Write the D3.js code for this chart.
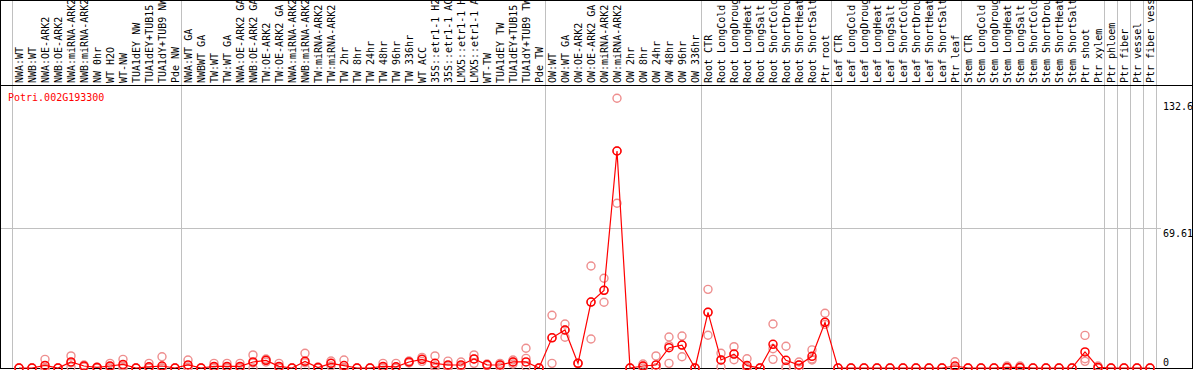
<!DOCTYPE html>
<html><head><meta charset="utf-8">
<script src="https://cdn.jsdelivr.net/npm/d3@7"></script>
<style>html,body{margin:0;padding:0;background:#fff;} svg{display:block}</style>
</head><body>
<svg id="c" width="1194" height="370"></svg>
<script>
const geneTitle = "Potri.002G193300";
const categories = [
"NWA:WT","NWB:WT","NWA:OE-ARK2","NWB:OE-ARK2","NWA:miRNA-ARK2","NWB:miRNA-ARK2","NW 0hr","WT H2O","WT-NW","TUA1dEY NW","TUA1dEY+TUB15 NW","TUA1dY+TUB9 NW","Pde NW",
"NWA:WT GA","NWBWT GA","TW:WT","TW:WT GA","NWA:OE-ARK2 GA","NWB:OE-ARK2 GA","TW:OE-ARK2","TW:OE-ARK2 GA","NWA:miRNA-ARK2 GA","NWB:miRNA-ARK2 GA","TW:miRNA-ARK2","TW:miRNA-ARK2 GA","TW 2hr","TW 8hr","TW 24hr","TW 48hr","TW 96hr","TW 336hr","WT ACC","35S::etr1-1 H2O","35S::etr1-1 ACC","LMX5::etr1-1 H2O","LMX5::etr1-1 ACC","WT-TW","TUA1dEY TW","TUA1dEY+TUB15 TW","TUA1dY+TUB9 TW","Pde TW",
"OW:WT","OW:WT GA","OW:OE-ARK2","OW:OE-ARK2 GA","OW:miRNA-ARK2","OW:miRNA-ARK2 GA","OW 2hr","OW 8hr","OW 24hr","OW 48hr","OW 96hr","OW 336hr",
"Root CTR","Root LongCold","Root LongDrought","Root LongHeat","Root LongSalt","Root ShortCold","Root ShortDrought","Root ShortHeat","Root ShortSalt","Ptr root",
"Leaf CTR","Leaf LongCold","Leaf LongDrought","Leaf LongHeat","Leaf LongSalt","Leaf ShortCold","Leaf ShortDrought","Leaf ShortHeat","Leaf ShortSalt","Ptr leaf",
"Stem CTR","Stem LongCold","Stem LongDrought","Stem LongHeat","Stem LongSalt","Stem ShortCold","Stem ShortDrought","Stem ShortHeat","Stem ShortSalt","Ptr shoot","Ptr xylem",
"Ptr phloem","Ptr fiber","Ptr vessel","Ptr fiber vessel"
];
const groupStarts = ["NWA:WT","NWA:WT GA","OW:WT","Root CTR","Leaf CTR","Stem CTR","Ptr phloem","Ptr fiber","Ptr vessel","Ptr fiber vessel"];
const meanValues = [
0,0,1.3,0,3,1,0.3,1,1.8,0,0.6,1,0,
1.5,0,0.8,0.8,0.8,3,3.8,0.8,0,3.3,0.2,2.3,1.2,0,0,0.8,0.6,3,4.3,2.3,1.5,1.5,4.5,1.6,1.5,3,3,0,
15,18.9,2.3,32.8,38.6,107.9,0,1,1.5,10.1,11.4,0,
27.7,4,6.9,1.2,0,11.8,3.8,1.5,5.8,22.7,
0,0,0,0,0,0,0,0,0,1,
0,0,0,0.3,0.3,0,0,0,0,8,0.3,
0,0,0,0
];
const rep1 = [
0,0,4.3,0,6,1.5,0.5,2.3,4.3,0,2.3,5.6,0,
4,0,2.3,2.3,2.3,6.5,4.5,2.3,0,7.3,0.5,3.5,4,0,0,2.3,2.3,3.5,5.3,6,3.4,3,6.5,2,2.3,4,9.8,0,
26.2,21.9,2.3,50.7,44.6,134.1,0,2,6,15.4,15.9,0,
39.1,7.3,10.6,4.6,0,21.9,10.8,3,9,27.2,
0,0,0,0,0,0,0,0,0,3.1,
0,0,0,1,1,0,0,0,0,16.2,1,
0,0,0,0
];
const rep2 = [
0,0,0,0,2.5,1,0.3,0.7,1,0,0,0,0,
0.5,0,0.2,0.2,0.2,2.5,3.8,0.2,0,2.6,0,2.3,0,0,0,0,0,3,4.3,1,1,1,4.5,1.6,1.5,3,4.8,0,
15.1,18.9,2.3,32.8,38.6,107.9,0,1,0,11.1,11.4,0,
27.7,4,6.9,0,0,9.6,0.6,1.5,4.5,22.7,
0,0,0,0,0,0,0,0,0,0,
0,0,0,0,0,0,0,0,0,4.6,0,
0,0,0,0
];
const rep3 = [
0,0,0,0,0.5,0.5,0,0,0,0,0,0,0,
0,0,0,0,0,0,3,0,0,0,0,1,0,0,0,0,0,2.5,3.3,0,0,0.5,2.3,1.2,0.5,2,0.7,0,
2.3,15.3,2.3,14.4,32.7,81.9,0,0,0,2.3,5.6,0,
16.3,0.5,4.1,0,0,4.3,0,0,4,21.7,
0,0,0,0,0,0,0,0,0,0,
0,0,0,0,0,0,0,0,0,3.3,0,
0,0,0,0
];
const yTickValues = [132.6, 69.61, 0];
const yTickLabels = ["132.6", "69.61", "0"];
const yGridValues = [69.61];

const W = 1194, H = 370;
const svg = d3.select("#c");
const font = "'DejaVu Sans Mono', monospace";

const x = d3.scaleBand().domain(categories).range([12.5, 12.5 + 13 * categories.length]).paddingInner(0).paddingOuter(0);
const cx = c => x(c) + x.bandwidth() / 2;
const y = d3.scaleLinear().domain([0, 139.22]).range([368, 88]);

// vertical group lines
const lastEnd = x(categories[categories.length - 1]) + x.bandwidth();
const gridXs = groupStarts.map(c => Math.round(x(c)) - 1).concat([Math.round(lastEnd) - 1]);
svg.append("g").selectAll("line").data(gridXs).join("line")
  .attr("x1", d => d + 0.5).attr("x2", d => d + 0.5)
  .attr("y1", 1).attr("y2", 368)
  .attr("stroke", "#c0c0c0").attr("stroke-width", 1);

// horizontal grid
svg.append("g").selectAll("line").data(yGridValues).join("line")
  .attr("x1", 1).attr("x2", 1161)
  .attr("y1", d => Math.round(y(d)) + 0.5).attr("y2", d => Math.round(y(d)) + 0.5)
  .attr("stroke", "#c0c0c0");

// header labels
svg.append("defs").append("clipPath").attr("id", "hdr")
  .append("rect").attr("x", 0).attr("y", 1).attr("width", W).attr("height", 84);
svg.append("g").attr("clip-path", "url(#hdr)")
  .selectAll("text").data(categories).join("text")
  .attr("transform", d => `translate(${cx(d)},83) rotate(-90)`)
  .attr("dy", "0.36em")
  .attr("font-family", font).attr("font-size", 10).attr("fill", "#000")
  .text(d => d);

// frame & header line
svg.append("rect").attr("x", 0.5).attr("y", 0.5).attr("width", 1192).attr("height", 368)
  .attr("fill", "none").attr("stroke", "#000");
svg.append("line").attr("x1", 0).attr("x2", 1193).attr("y1", 85.5).attr("y2", 85.5).attr("stroke", "#000");

// title
svg.append("text").attr("x", 8).attr("y", 101)
  .attr("font-family", font).attr("font-size", 10).attr("fill", "#ff0000").text(geneTitle);

// y labels
svg.append("g").selectAll("text").data(yTickValues).join("text")
  .attr("x", 1163)
  .attr("y", d => Math.min(y(d) + 9, 366))
  .attr("font-family", font).attr("font-size", 10).attr("fill", "#000")
  .text((d, i) => yTickLabels[i]);

// replicates
const plot = svg.append("g");
[rep1, rep2, rep3].forEach(rep => {
  plot.append("g").selectAll("circle").data(categories).join("circle")
    .attr("cx", d => cx(d)).attr("cy", (d, i) => y(rep[i])).attr("r", 4)
    .attr("fill", "none").attr("stroke", "#ee8e8e").attr("stroke-width", 1.4);
});

// mean line
plot.append("path").datum(categories)
  .attr("d", d3.line().x(d => cx(d)).y((d, i) => y(meanValues[i])))
  .attr("fill", "none").attr("stroke", "#ff0000").attr("stroke-width", 1.2);

plot.append("g").selectAll("circle").data(categories).join("circle")
  .attr("cx", d => cx(d)).attr("cy", (d, i) => y(meanValues[i])).attr("r", 4)
  .attr("fill", "none").attr("stroke", "#ff0000").attr("stroke-width", 1.5);
</script>
</body></html>
